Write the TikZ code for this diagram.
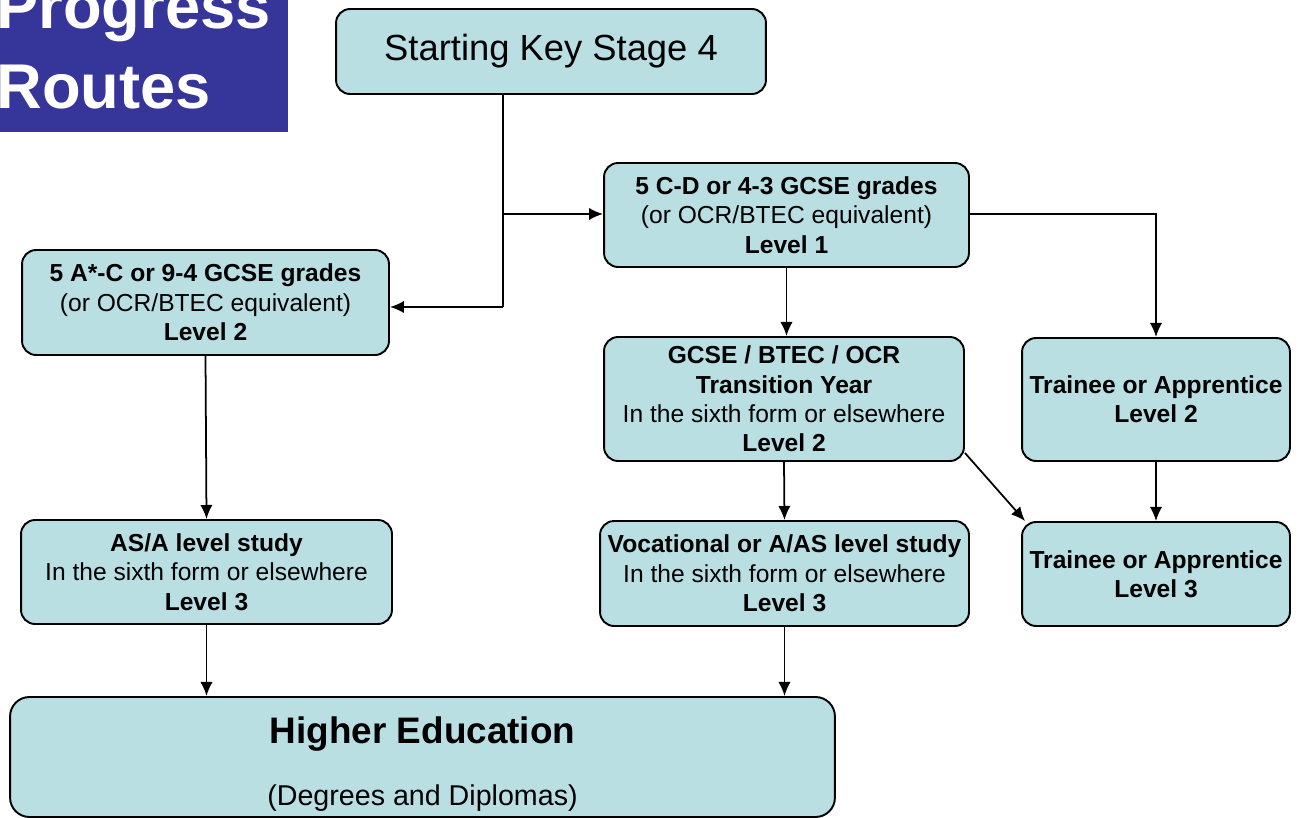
\documentclass[tikz,border=0pt]{standalone}
\usepackage{fontspec}
\setmainfont{Liberation Sans}
\usetikzlibrary{arrows.meta, calc}
\definecolor{boxfill}{HTML}{B9DFE3}
\definecolor{titleblue}{HTML}{35359A}

\tikzset{
  stage/.style={draw=black, fill=boxfill, line width=1.1pt, rounded corners=8pt,
    align=center, inner sep=0pt, font=\fontsize{14}{16.7}\selectfont},
  flow/.style={line width=1pt, -{Latex[length=8pt, width=7pt]}}
}

\begin{document}
\begin{tikzpicture}[x=0.02cm, y=-0.02cm]
            \useasboundingbox (0,0) rectangle (1299,818);
            \clip (0,0) rectangle (1299,818);

            % title block
            \fill[titleblue] (0,0) rectangle (288,132);
            \node[anchor=base west, inner sep=0pt, text=white, align=left,
              font=\fontsize{36}{45}\selectfont\bfseries] (title) at (-4,108) {Progress\\Routes};

            % boxes
            \node[stage, minimum width=8.6cm, minimum height=1.7cm,
              font=\fontsize{20.7}{24}\selectfont] (start) at (551,51.5) {Starting Key Stage 4};
            \node[stage, minimum width=7.3cm, minimum height=2.08cm] (lvlone) at (786.5,215)
              {\textbf{5 C-D or 4-3 GCSE grades}\\(or OCR/BTEC equivalent)\\\textbf{Level 1}};
            \node[stage, minimum width=7.34cm, minimum height=2.1cm] (lvltwo) at (205.5,302.5)
              {\textbf{5 A*-C or 9-4 GCSE grades}\\(or OCR/BTEC equivalent)\\\textbf{Level 2}};
            \node[stage, minimum width=7.2cm, minimum height=2.48cm] (trans) at (784,399)
              {\textbf{GCSE / BTEC / OCR}\\\textbf{Transition Year}\\In the sixth form or elsewhere\\\textbf{Level 2}};
            \node[stage, minimum width=5.36cm, minimum height=2.46cm] (trainb) at (1156,399.5)
              {\textbf{Trainee or Apprentice}\\\textbf{Level 2}};
            \node[stage, minimum width=7.42cm, minimum height=2.08cm] (asa) at (206.5,572)
              {\textbf{AS/A level study}\\In the sixth form or elsewhere\\\textbf{Level 3}};
            \node[stage, minimum width=7.38cm, minimum height=2.1cm] (voc) at (784.5,573.5)
              {\textbf{Vocational or A/AS level study}\\In the sixth form or elsewhere\\\textbf{Level 3}};
            \node[stage, minimum width=5.36cm, minimum height=2.08cm] (trainc) at (1156,574)
              {\textbf{Trainee or Apprentice}\\\textbf{Level 3}};

            % higher education
            \node[stage, minimum width=16.5cm, minimum height=2.4cm, rounded corners=11pt] (he) at (422.5,757) {};
            \node[anchor=base, inner sep=0pt, font=\fontsize{21}{25}\selectfont\bfseries] (hetitle) at (422.5,743) {Higher Education};
            \node[anchor=base, inner sep=0pt, font=\fontsize{16.3}{19}\selectfont] (hesub) at (422.5,805) {(Degrees and Diplomas)};

            % connectors
            \coordinate (split) at (503,214);
            \coordinate (turn) at (503,307);
            \draw[line width=1pt] (start.south -| turn) -- (turn);
            \draw[flow] (turn) -- (lvltwo.east |- turn);
            \draw[flow] (split) -- (lvlone.west |- split);
            \draw[flow] (lvlone.east |- split) -| (trainb.north);
            \draw[flow] (lvlone.south) -- (lvlone.south |- trans.north);
            \draw[flow] (lvltwo.south) -- (asa.north);
            \draw[flow] (trans.south) -- (voc.north);
            \draw[flow] ($(trans.south east)+(0,-9)$) -- ($(trainc.north west)+(4,0)$);
            \draw[flow] (trainb.south) -- (trainc.north);
            \draw[flow] (asa.south) -- (asa.south |- he.north);
            \draw[flow] (voc.south) -- (voc.south |- he.north);

        \end{tikzpicture}
\end{document}
